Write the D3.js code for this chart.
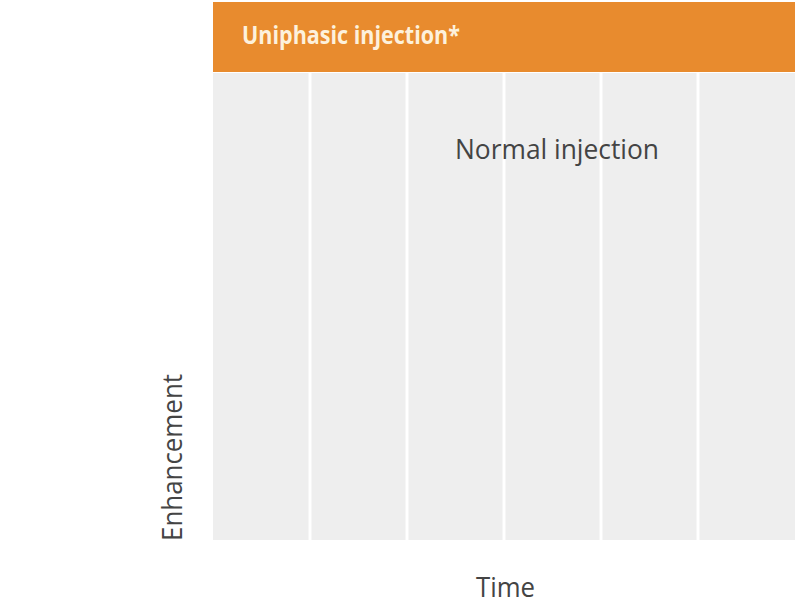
<!DOCTYPE html>
<html>
<head>
<meta charset="utf-8">
<script src="https://cdn.jsdelivr.net/npm/d3@7"></script>
<style>
  html, body { margin: 0; padding: 0; background: #ffffff; }
  svg { display: block; }
</style>
</head>
<body>
<div id="chart"></div>
<script>
// ---- data ----
const timeColumns = [0, 1, 2, 3, 4, 5];          // time bands (columns)
const timeDomain = [0, 6];
const enhancementDomain = [0, 1];
const seriesValues = [];                          // no curve shown in this frame
const headerTitle = "Uniphasic injection*";
const seriesLabel = "Normal injection";
const xAxisLabel = "Time";
const yAxisLabel = "Enhancement";

// ---- layout ----
const W = 799, H = 605;
const plot = { left: 213, right: 795, top: 73, bottom: 540 };
const header = { top: 2, bottom: 72 };

const svg = d3.select("#chart").append("svg")
  .attr("width", W).attr("height", H);

const x = d3.scaleLinear().domain(timeDomain).range([plot.left, plot.right]);
const y = d3.scaleLinear().domain(enhancementDomain).range([plot.bottom, plot.top]);

// plot background columns
svg.append("g").selectAll("rect")
  .data(timeColumns)
  .join("rect")
  .attr("x", d => x(d) + (d === 0 ? 0 : 1.5))
  .attr("y", y(1))
  .attr("width", d => x(d + 1) - x(d) - (d === 0 ? 1.5 : 3) + (d === timeColumns.length - 1 ? 1.5 : 0))
  .attr("height", y(0) - y(1))
  .attr("fill", "#eeeeee");

// header bar
svg.append("rect")
  .attr("x", plot.left).attr("y", header.top)
  .attr("width", plot.right - plot.left)
  .attr("height", header.bottom - header.top)
  .attr("fill", "#e88b2e");

svg.append("text")
  .attr("x", 242).attr("y", 44)
  .attr("font-family", "'Open Sans', 'Noto Sans', sans-serif")
  .attr("font-weight", 700)
  .attr("font-size", 25)
  .attr("fill", "#fdf1dc")
  .attr("textLength", 218)
  .attr("lengthAdjust", "spacingAndGlyphs")
  .text(headerTitle);

// series label
svg.append("text")
  .attr("x", 455).attr("y", 159)
  .attr("font-family", "'Open Sans', 'Noto Sans', sans-serif")
  .attr("font-size", 27)
  .attr("fill", "#444444")
  .attr("textLength", 204)
  .attr("lengthAdjust", "spacingAndGlyphs")
  .text(seriesLabel);

// series line (empty in this frame)
const line = d3.line().x(d => x(d[0])).y(d => y(d[1]));
svg.append("path").datum(seriesValues)
  .attr("d", seriesValues.length ? line(seriesValues) : null)
  .attr("fill", "none").attr("stroke", "#e88b2e").attr("stroke-width", 3);

// axis labels
svg.append("text")
  .attr("x", 476).attr("y", 597)
  .attr("font-family", "'Open Sans', 'Noto Sans', sans-serif")
  .attr("font-size", 27)
  .attr("fill", "#444444")
  .attr("textLength", 59)
  .attr("lengthAdjust", "spacingAndGlyphs")
  .text(xAxisLabel);

svg.append("text")
  .attr("transform", "translate(182,541) rotate(-90)")
  .attr("font-family", "'Open Sans', 'Noto Sans', sans-serif")
  .attr("font-size", 27)
  .attr("fill", "#444444")
  .attr("textLength", 167)
  .attr("lengthAdjust", "spacingAndGlyphs")
  .text(yAxisLabel);
</script>
</body>
</html>
